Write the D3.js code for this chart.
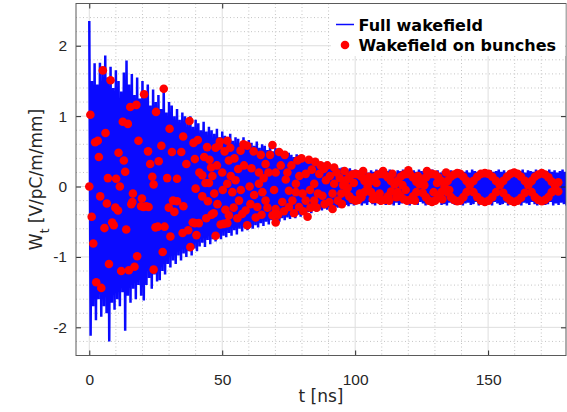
<!DOCTYPE html>
<html>
<head>
<meta charset="utf-8">
<script src="https://cdn.jsdelivr.net/npm/d3@7"></script>
<style>
	body { margin: 0; background: #fff; }
	svg { display: block; font-family: "DejaVu Sans", sans-serif; }
</style>
</head>
<body>
<div id="main"></div>
<script>

// full wakefield: one peak (t = i ns) and one trough (t = i + 0.5 ns) per ns
const wakePeaks = [
	2.35, 1.50, 1.75, 1.45, 1.76, 1.60, 1.86, 1.55, 1.70, 1.40,
	1.65, 1.50, 1.35, 1.62, 1.79, 1.45, 1.60, 1.30, 1.55, 1.25,
	1.50, 1.32, 1.45, 1.15, 1.38, 1.20, 1.30, 1.10, 1.40, 1.05,
	1.20, 1.15, 1.00, 1.10, 0.95, 1.05, 1.00, 0.90, 1.00, 0.85,
	0.95, 0.90, 0.80, 0.92, 0.78, 0.85, 0.80, 0.75, 0.82, 0.70,
	0.78, 0.72, 0.68, 0.75, 0.65, 0.70, 0.68, 0.62, 0.70, 0.60,
	0.66, 0.62, 0.58, 0.64, 0.55, 0.60, 0.58, 0.52, 0.62, 0.50,
	0.55, 0.52, 0.48, 0.50, 0.45, 0.48, 0.45, 0.42, 0.46, 0.44,
	0.42, 0.40, 0.36, 0.38, 0.34, 0.36, 0.35, 0.32, 0.34, 0.30,
	0.32, 0.30, 0.29, 0.30, 0.26, 0.27, 0.26, 0.24, 0.26, 0.23,
	0.24, 0.23, 0.21, 0.24, 0.22, 0.20, 0.23, 0.21, 0.24, 0.22,
	0.20, 0.23, 0.22, 0.24, 0.21, 0.20, 0.23, 0.22, 0.24, 0.21,
	0.22, 0.20, 0.23, 0.21, 0.24, 0.22, 0.20, 0.23, 0.22, 0.24,
	0.21, 0.23, 0.20, 0.22, 0.24, 0.21, 0.23, 0.22, 0.20, 0.24,
	0.22, 0.21, 0.23, 0.20, 0.24, 0.22, 0.21, 0.23, 0.22, 0.24,
	0.20, 0.23, 0.21, 0.22, 0.24, 0.21, 0.23, 0.20, 0.22, 0.24,
	0.23, 0.21, 0.22, 0.24, 0.20, 0.23, 0.22, 0.21, 0.24, 0.22,
	0.20, 0.23, 0.22, 0.24, 0.21, 0.23, 0.20, 0.22, 0.24, 0.21,
	0.23
];
const wakeTroughs = [
	-2.12, -1.70, -1.90, -1.60, -1.85, -1.70, -1.80, -2.20, -1.65, -1.75,
	-1.60, -1.70, -1.50, -2.05, -1.55, -1.65, -1.45, -1.60, -1.40, -1.55,
	-1.62, -1.40, -1.30, -1.45, -1.25, -1.35, -1.33, -1.20, -1.25, -1.10,
	-1.15, -1.05, -1.10, -0.98, -1.05, -0.95, -1.00, -0.92, -0.98, -0.88,
	-0.92, -0.85, -0.80, -0.86, -0.76, -0.82, -0.75, -0.78, -0.72, -0.75,
	-0.70, -0.72, -0.66, -0.70, -0.62, -0.68, -0.60, -0.64, -0.58, -0.62,
	-0.58, -0.60, -0.55, -0.58, -0.52, -0.56, -0.50, -0.54, -0.48, -0.52,
	-0.48, -0.50, -0.45, -0.48, -0.44, -0.46, -0.42, -0.45, -0.40, -0.43,
	-0.40, -0.38, -0.36, -0.38, -0.34, -0.36, -0.32, -0.34, -0.31, -0.33,
	-0.30, -0.32, -0.29, -0.30, -0.27, -0.29, -0.26, -0.28, -0.25, -0.27,
	-0.25, -0.23, -0.27, -0.24, -0.26, -0.22, -0.25, -0.27, -0.23, -0.26,
	-0.24, -0.26, -0.22, -0.25, -0.27, -0.23, -0.26, -0.24, -0.22, -0.25,
	-0.27, -0.23, -0.25, -0.26, -0.22, -0.24, -0.27, -0.25, -0.23, -0.26,
	-0.24, -0.22, -0.26, -0.25, -0.27, -0.23, -0.24, -0.26, -0.22, -0.25,
	-0.27, -0.24, -0.23, -0.26, -0.25, -0.22, -0.27, -0.24, -0.26, -0.23,
	-0.25, -0.27, -0.22, -0.24, -0.26, -0.25, -0.23, -0.27, -0.24, -0.22,
	-0.26, -0.25, -0.27, -0.23, -0.24, -0.26, -0.22, -0.25, -0.27, -0.24,
	-0.23, -0.26, -0.25, -0.22, -0.27, -0.24, -0.26, -0.23, -0.25, -0.27,
	-0.24
];

// wakefield seen by the bunches: [t (ns), Wt]
const bunches = [
	[0,0],[0.4,1.02],[0.9,-0.43],[1.5,-0.81],[2.2,0.63],[2.6,-1.36],[3.2,0.65],[3.6,0.42],
	[4.1,-0.14],[4.5,-1.44],[5.1,1.65],[5.7,-0.59],[6.1,0.76],[6.6,-0.24],[7.0,0.12],[7.4,-1.10],
	[8.0,1.51],[8.6,-0.51],[9.2,-0.55],[9.8,-0.30],[10.1,0.11],[10.8,-0.34],[11.0,0.48],[11.5,0],
	[12.0,-1.20],[12.6,0.92],[13.0,0.37],[13.5,0.21],[13.9,-0.61],[14.5,0.89],[14.9,-1.19],[15.4,1.13],
	[15.8,-0.25],[16.2,-0.22],[16.4,-0.10],[17.0,-1.14],[17.7,1.16],[18.0,-0.99],[18.5,0.65],[19.5,-0.28],
	[19.8,-0.17],[20.4,-0.29],[20.6,1.31],[21.4,-0.28],[22.1,0.50],[22.3,-0.29],[22.9,0.32],[23.7,0.14],
	[24.2,0.03],[24.2,-1.18],[24.9,-0.58],[25.1,1.06],[25.8,-0.57],[26.1,0.36],[27.1,0.58],[27.6,-0.93],
	[28.0,1.39],[28.3,-0.57],[29.3,0.12],[29.9,-0.30],[30.2,0.82],[30.5,-0.71],[31.1,0.49],[31.5,-0.20],
	[32.0,-0.36],[33.0,0.11],[33.0,-0.21],[34.6,0.49],[35.1,-0.66],[35.3,0.71],[35.4,-0.28],[36.5,0.32],
	[37.2,-0.62],[37.7,0.93],[38.0,-0.86],[38.9,-0.51],[39.2,0.62],[39.7,0.39],[39.7,-0.52],[40.0,-0.03],
	[40.3,-0.69],[40.8,0.66],[41.2,-0.52],[41.4,0.20],[42.5,0.16],[42.5,-0.14],[43.2,0.42],[43.7,0.05],
	[44.0,-0.45],[44.3,0.56],[44.6,-0.21],[45.0,0.05],[45.2,0.38],[45.8,0.27],[46.0,-0.40],[46.3,0.15],
	[46.8,-0.38],[47.0,-0.10],[47.5,0.55],[47.5,-0.70],[48.0,0.30],[48.2,-0.25],[48.7,0.58],[49.1,0.64],
	[49.4,-0.54],[50.0,0.20],[50.2,-0.05],[50.6,-0.53],[50.9,0.50],[51.2,-0.33],[51.9,0.04],[51.9,-0.52],
	[51.9,0.65],[52.5,0.37],[52.5,-0.41],[53.0,0.55],[53.2,0.15],[53.8,-0.08],[54.3,-0.30],[54.6,0.40],
	[55.0,0.09],[55.7,-0.45],[56.0,0.25],[56.3,-0.20],[56.9,0.51],[57.0,-0.05],[57.5,-0.39],[58.0,0.60],
	[58.2,0.30],[58.8,-0.34],[59.4,0.58],[59.4,-0.55],[60.3,0.00],[60.6,-0.25],[61.0,0.26],[61.8,0.50],
	[62.0,-0.12],[62.6,-0.44],[63.2,-0.29],[63.8,0.20],[63.8,0.04],[64.5,0.45],[64.8,-0.40],[65.1,-0.08],
	[65.6,0.12],[66.3,0.32],[66.3,-0.20],[67.0,-0.30],[67.4,0.20],[68.0,0.45],[68.9,0.59],[68.9,-0.41],
	[69.5,-0.05],[70.1,0.20],[70.1,-0.32],[70.1,-0.51],[71.0,-0.40],[71.4,0.49],[72.0,0.30],[72.6,-0.22],
	[73.2,-0.35],[73.5,0.45],[73.9,0.10],[74.5,0.20],[75.1,-0.06],[75.1,-0.29],[76.0,0.30],[76.4,-0.20],
	[77.0,-0.38],[77.7,0.04],[77.7,-0.08],[78.3,0.37],[78.9,-0.29],[79.0,0.15],[79.8,0.40],[80.2,-0.10],
	[80.5,-0.35],[81.4,0.18],[81.4,-0.20],[82.1,-0.43],[82.6,0.38],[83.0,-0.05],[83.2,-0.30],[83.7,0.24],
	[84.6,0.04],[84.6,-0.20],[85.0,0.35],[85.5,-0.30],[86.0,-0.10],[86.5,0.18],[87.0,0.30],[87.7,-0.13],
	[88.2,0.25],[88.5,-0.25],[89.0,0.09],[89.5,0.30],[90.3,-0.22],[90.5,0.15],[91.5,-0.10],[91.5,-0.32],
	[92.1,0.27],[92.1,0.04],[93.0,0.20],[93.5,-0.20],[94.2,0.12],[94.8,-0.10],[95.0,-0.25],
	[95.5,0.02],[96.6,0.09],[97.8,0.14],[98.9,0.17],[100.1,0.18],[101.2,0.17],[102.4,0.14],[103.5,0.08],
	[96.6,-0.08],[97.8,-0.14],[98.9,-0.18],[100.1,-0.20],[101.2,-0.19],[102.4,-0.15],[103.5,-0.08],
	[96.0,0.22],[97.2,-0.02],[99.5,0.05],[101.8,-0.10],[103.0,0.22],[105.2,0.14],[106.6,-0.18],[108.0,0.05],
	[109.2,-0.10],[110.5,0.22],[112.8,-0.20],[114.0,0.18],[115.5,-0.15],[117.8,0.02],[119.0,-0.05],[120.0,0.23],
	[122.5,-0.20],[123.6,0.15],[126.0,0.02],[127.0,0.22],[129.5,-0.08],[130.8,0.05],[132.8,-0.18],[134.2,0.20],
	[135.4,-0.05],
	[104.7,0],[106.0,0.08],[107.2,0.13],[108.5,0.17],[109.7,0.18],[111.0,0.17],[112.3,0.13],[113.5,0.08],
	[106.0,-0.08],[107.2,-0.14],[108.5,-0.18],[109.7,-0.20],[111.0,-0.19],[112.3,-0.14],[113.5,-0.07],
	[114.8,0.03],[116.0,0.08],[117.1,0.14],[118.3,0.17],[119.5,0.18],[120.7,0.17],[121.8,0.13],[123.0,0.07],
	[116.0,-0.08],[117.1,-0.14],[118.3,-0.18],[119.5,-0.20],[120.7,-0.19],[121.8,-0.14],[123.0,-0.08],
	[124.2,0.03],[125.4,0.08],[126.6,0.13],[127.7,0.17],[128.9,0.18],[130.1,0.17],[131.3,0.13],[132.4,0.08],
	[125.4,-0.09],[126.6,-0.15],[127.7,-0.20],[128.9,-0.22],[130.1,-0.20],[131.3,-0.15],[132.4,-0.08],
	[133.6,0],[134.8,0.08],[136.0,0.14],[137.2,0.17],[138.4,0.19],[139.5,0.18],[140.7,0.14],[141.9,0.08],
	[134.8,-0.08],[136.0,-0.15],[137.2,-0.19],[138.4,-0.21],[139.5,-0.20],[140.7,-0.15],[141.9,-0.08],
	[143.1,0.02],[144.5,0.08],[145.9,0.14],[147.3,0.18],[148.8,0.19],[150.2,0.18],[151.6,0.14],[153.0,0.08],
	[144.5,-0.08],[145.9,-0.15],[147.3,-0.20],[148.8,-0.22],[150.2,-0.20],[151.6,-0.15],[153.0,-0.08],
	[154.4,0.02],[155.7,0.08],[157.1,0.14],[158.4,0.18],[159.8,0.20],[161.1,0.18],[162.4,0.14],[163.8,0.08],
	[155.7,-0.09],[157.1,-0.16],[158.4,-0.20],[159.8,-0.22],[161.1,-0.20],[162.4,-0.16],[163.8,-0.09],
	[165.1,0.02],[166.4,0.08],[167.6,0.14],[168.9,0.17],[170.2,0.19],[171.4,0.17],[172.7,0.13],[173.9,0.07],
	[166.4,-0.08],[167.6,-0.15],[168.9,-0.19],[170.2,-0.21],[171.4,-0.19],[172.7,-0.15],[173.9,-0.08],
	[175.2,0.01],[176.4,0.06],[176.4,-0.07]
];

const xTicks = [0, 50, 100, 150];
const yTicks = [-2, -1, 0, 1, 2];
const xMinor = [10, 20, 30, 40, 60, 70, 80, 90, 110, 120, 130, 140, 160, 170];
const yMinor = [-2.2, -1.8, -1.6, -1.4, -1.2, -0.8, -0.6, -0.4, -0.2, 0.2, 0.4, 0.6, 0.8, 1.2, 1.4, 1.6, 1.8, 2.2, 2.4];

let width = 567;
let height = 412;
let plot = {left: 76, right: 566, top: 3.5, bottom: 355.5};

let x = d3.scaleLinear()
	.domain([-5, 179.3])
	.range([plot.left, plot.right]);

let y = d3.scaleLinear()
	.domain([-2.4, 2.6])
	.range([plot.bottom, plot.top]);

let svg = d3.select("#main")
	.append("svg")
		.attr("width", width)
		.attr("height", height);

svg.append("clipPath")
	.attr("id", "clip")
	.append("rect")
		.attr("x", plot.left)
		.attr("y", plot.top)
		.attr("width", plot.right - plot.left)
		.attr("height", plot.bottom - plot.top);

// minor grid (dotted)
let grid = svg.append("g");
grid.selectAll("xminor")
	.data(xMinor)
	.enter()
	.append("line")
		.attr("x1", d => x(d)).attr("x2", d => x(d))
		.attr("y1", plot.top).attr("y2", plot.bottom)
		.attr("stroke", "#c4c4c4")
		.attr("stroke-dasharray", "1,2.5");
grid.selectAll("yminor")
	.data(yMinor)
	.enter()
	.append("line")
		.attr("y1", d => y(d)).attr("y2", d => y(d))
		.attr("x1", plot.left).attr("x2", plot.right)
		.attr("stroke", "#c4c4c4")
		.attr("stroke-dasharray", "1,2.5");
// major grid
grid.selectAll("xmajor")
	.data(xTicks)
	.enter()
	.append("line")
		.attr("x1", d => x(d)).attr("x2", d => x(d))
		.attr("y1", plot.top).attr("y2", plot.bottom)
		.attr("stroke", "#dedede");
grid.selectAll("ymajor")
	.data(yTicks)
	.enter()
	.append("line")
		.attr("y1", d => y(d)).attr("y2", d => y(d))
		.attr("x1", plot.left).attr("x2", plot.right)
		.attr("stroke", "#dedede");

// full wakefield trace
let trace = [];
wakePeaks.forEach((p, i) => {
	trace.push([i, p]);
	trace.push([i + 0.5, wakeTroughs[i]]);
});

svg.append("path")
	.datum(trace)
	.attr("clip-path", "url(#clip)")
	.attr("fill", "none")
	.attr("stroke", "#0a0aff")
	.attr("stroke-width", 2.5)
	.attr("stroke-linejoin", "bevel")
	.attr("d", d3.line().x(d => x(d[0])).y(d => y(d[1])));

// bunch samples
svg.append("g")
	.attr("clip-path", "url(#clip)")
	.selectAll("dot")
	.data(bunches)
	.enter()
	.append("circle")
		.attr("cx", d => x(d[0]))
		.attr("cy", d => y(d[1]))
		.attr("r", 4.3)
		.style("fill", "#ff0000");

// axes, ticks pointing inwards on all four sides
const styleAxis = g => {
	g.select(".domain").remove();
	g.selectAll("line").attr("stroke", "#262626");
	g.selectAll("text").attr("fill", "#262626").style("font-size", "15.5px").attr("font-family", null);
};

svg.append("g")
	.attr("transform", `translate(0,${plot.bottom})`)
	.call(d3.axisBottom(x).tickValues(xTicks).tickSize(-5).tickPadding(18).tickFormat(d => d))
	.call(styleAxis);
svg.append("g")
	.attr("transform", `translate(0,${plot.top})`)
	.call(d3.axisTop(x).tickValues(xTicks).tickSize(-5).tickFormat(""))
	.call(styleAxis);
svg.append("g")
	.attr("transform", `translate(${plot.left},0)`)
	.call(d3.axisLeft(y).tickValues(yTicks).tickSize(-5).tickPadding(9).tickFormat(d => d))
	.call(styleAxis);
svg.append("g")
	.attr("transform", `translate(${plot.right},0)`)
	.call(d3.axisRight(y).tickValues(yTicks).tickSize(-5).tickFormat(""))
	.call(styleAxis);

svg.append("rect")
	.attr("x", plot.left)
	.attr("y", plot.top)
	.attr("width", plot.right - plot.left)
	.attr("height", plot.bottom - plot.top)
	.attr("fill", "none")
	.attr("stroke", "#5a5a5a");

// axis labels
svg.append("text")
	.attr("x", (plot.left + plot.right) / 2)
	.attr("y", 402)
	.attr("text-anchor", "middle")
	.attr("fill", "#262626")
	.style("font-size", "17px")
	.text("t [ns]");

let ylab = svg.append("text")
	.attr("transform", `translate(42,${(plot.top + plot.bottom) / 2}) rotate(-90)`)
	.attr("text-anchor", "middle")
	.attr("fill", "#262626")
	.style("font-size", "17px");
ylab.append("tspan").text("W");
ylab.append("tspan").attr("baseline-shift", "sub").style("font-size", "12px").text("t");
ylab.append("tspan").text(" [V/pC/m/mm]");

// legend
let legend = svg.append("g");
legend.append("rect")
	.attr("x", 331).attr("y", plot.top + 0.5)
	.attr("width", plot.right - 331 - 0.5).attr("height", 52)
	.attr("fill", "#fff");
legend.append("line")
	.attr("x1", 336).attr("x2", 354)
	.attr("y1", 24.5).attr("y2", 24.5)
	.attr("stroke", "#0a0aff")
	.attr("stroke-width", 1.5);
legend.append("circle")
	.attr("cx", 345).attr("cy", 45)
	.attr("r", 4.3)
	.style("fill", "#ff0000");
legend.selectAll("labels")
	.data(["Full wakefield", "Wakefield on bunches"])
	.enter()
	.append("text")
		.attr("x", 358.5)
		.attr("y", (d, i) => 30.7 + i * 20.3)
		.attr("fill", "#000")
		.style("font-size", "16px")
		.style("font-weight", "bold")
		.text(d => d);

</script>
</body>
</html>
